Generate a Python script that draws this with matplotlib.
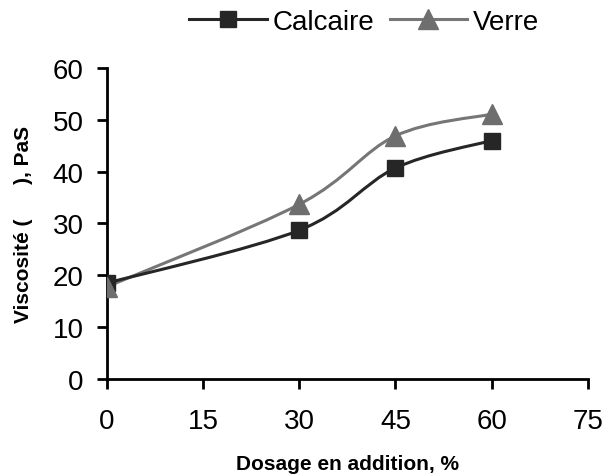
import numpy as np
import matplotlib
matplotlib.use("Agg")
import matplotlib.pyplot as plt
from matplotlib.path import Path
from matplotlib.patches import PathPatch

plt.rcParams['font.family'] = ['Liberation Sans', 'DejaVu Sans']

dosage = [0, 30, 45, 60]
calcaire = [18.5, 28.7, 40.7, 46.0]
verre = [17.8, 33.7, 46.9, 51.1]
xticks = [0, 15, 30, 45, 60, 75]
yticks = [0, 10, 20, 30, 40, 50, 60]


def smooth_path(x, y, t=0.5 / 3):
    # Excel style smoothed line: cubic bezier through the points
    x = np.asarray(x, float)
    y = np.asarray(y, float)
    verts = [(x[0], y[0])]
    codes = [Path.MOVETO]
    n = len(x)
    for i in range(n - 1):
        p0 = np.array([x[max(i - 1, 0)], y[max(i - 1, 0)]])
        p1 = np.array([x[i], y[i]])
        p2 = np.array([x[i + 1], y[i + 1]])
        p3 = np.array([x[min(i + 2, n - 1)], y[min(i + 2, n - 1)]])
        c1 = p1 + (p2 - p0) * t
        c2 = p2 - (p3 - p1) * t
        verts += [tuple(c1), tuple(c2), tuple(p2)]
        codes += [Path.CURVE4] * 3
    return Path(verts, codes)


fig = plt.figure(figsize=(6.06, 4.77), dpi=100)
ax = fig.add_axes([0.1766, 0.2034, 0.7934, 0.652])

c_col = '#262626'
v_col = '#6e6e6e'

ax.add_patch(PathPatch(smooth_path(dosage, verre), fill=False, ec='#767676', lw=2.2, zorder=2))
ax.add_patch(PathPatch(smooth_path(dosage, calcaire), fill=False, ec=c_col, lw=2.2, zorder=2))
ax.plot(dosage, calcaire, ls='none', marker='s', ms=11.5, color=c_col, zorder=3)
ax.plot(dosage, verre, ls='none', marker='^', ms=14, color=v_col, zorder=4)

# legend handles
h1, = ax.plot([], [], '-', marker='s', ms=11.5, lw=2.2, color=c_col, label='Calcaire')
h2, = ax.plot([], [], '-', marker='^', ms=14, lw=2.2, color=v_col, mec=v_col, label='Verre')
h2.set_color('#767676')
h2.set_markerfacecolor(v_col)
fig.legend(handles=[h1, h2], loc='center', bbox_to_anchor=(0.601, 0.952), ncol=2,
           frameon=False, fontsize=20, handlelength=2.8, handletextpad=0.2,
           columnspacing=0.55, borderpad=0, borderaxespad=0)

ax.set_xlim(0, 75)
ax.set_ylim(0, 60)
ax.set_xticks(xticks)
ax.set_yticks(yticks)
ax.spines['top'].set_visible(False)
ax.spines['right'].set_visible(False)
for s in ['left', 'bottom']:
    ax.spines[s].set_linewidth(2)
    ax.spines[s].set_color('black')
ax.tick_params(direction='out', length=7, width=2, labelsize=20)
ax.tick_params(axis='x', pad=14)
ax.tick_params(axis='y', pad=10)

ax.set_xlabel('Dosage en addition, %', fontsize=15, fontweight='bold', labelpad=14)
ax.set_ylabel('Viscosité (      ), PaS', fontsize=15, fontweight='bold', labelpad=14)

fig.savefig('out.png', dpi=100)
